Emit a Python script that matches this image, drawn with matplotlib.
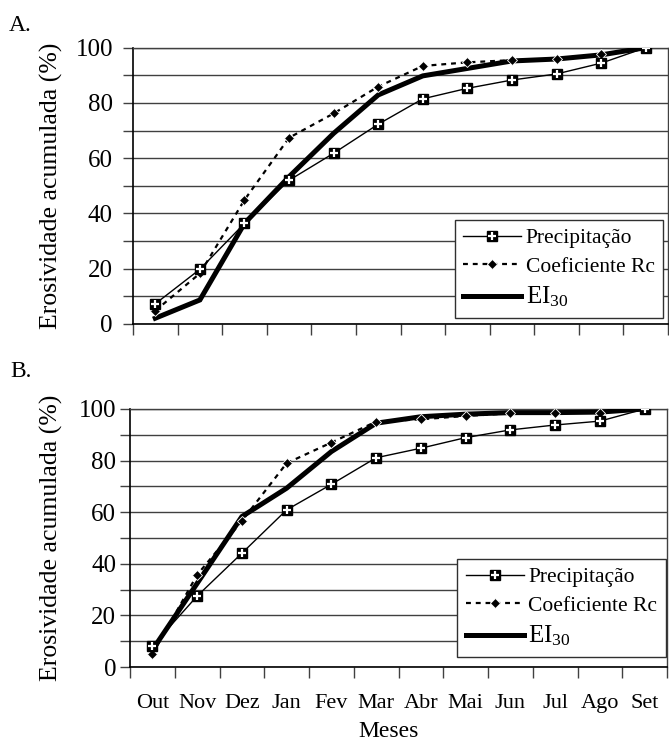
import matplotlib
matplotlib.use("Agg")
import matplotlib.pyplot as plt
from matplotlib.ticker import MultipleLocator, FuncFormatter

plt.rcParams['font.family'] = ['Liberation Serif', 'DejaVu Serif']
plt.rcParams['mathtext.fontset'] = 'custom'
plt.rcParams['mathtext.rm'] = 'Liberation Serif'
plt.rcParams['mathtext.default'] = 'regular'

meses = ["Out", "Nov", "Dez", "Jan", "Fev", "Mar", "Abr", "Mai", "Jun", "Jul", "Ago", "Set"]

# painel A
prec_a = [7.3, 19.8, 36.4, 52.0, 61.8, 72.3, 81.5, 85.3, 88.3, 90.5, 94.4, 100]
rc_a = [4.8, 18.3, 44.9, 67.4, 76.2, 85.9, 93.4, 94.7, 95.5, 95.9, 97.6, 100]
ei_a = [2.1, 8.7, 36.4, 53.3, 69.0, 82.9, 89.8, 92.5, 95.2, 95.9, 97.4, 100]

# painel B
prec_b = [8.1, 27.5, 44.1, 60.9, 70.8, 81.1, 84.8, 88.9, 91.9, 93.8, 95.3, 100]
rc_b = [4.9, 35.7, 56.6, 79.0, 87.0, 95.1, 96.0, 97.3, 98.3, 98.6, 98.6, 100]
ei_b = [6.6, 32.4, 58.3, 69.3, 83.5, 94.5, 97.0, 98.0, 98.6, 98.6, 98.8, 100]

W, H = 669, 743
fig = plt.figure(figsize=(W / 100, H / 100), dpi=100)


def painel(rect, prec, rc, ei, leg_anchor, ypad, xlabels):
    ax = fig.add_axes(rect)
    x = range(len(meses))
    ax.plot(x, ei, color='black', lw=3.6, solid_joinstyle='miter', zorder=3)
    l_rc, = ax.plot(x, rc, color='black', lw=1.6, linestyle=(0, (2.2, 2.2)),
                    marker='D', ms=5, mfc='black', mec='white', mew=0.6, zorder=4)
    l_p, = ax.plot(x, prec, color='black', lw=1.0, marker='s', ms=7,
                   mfc='black', mec='black', zorder=5)
    l_px, = ax.plot(x, prec, linestyle='none', marker='+', ms=5.5,
                    mec='white', mew=1.6, zorder=6)
    l_ei, = ax.plot([], [], color='black', lw=3.6)

    ax.set_xlim(-0.5, len(meses) - 0.5)
    ax.set_ylim(0, 100)
    ax.yaxis.set_major_locator(MultipleLocator(10))
    ax.yaxis.set_major_formatter(FuncFormatter(lambda v, p: f"{v:.0f}" if round(v) % 20 == 0 else ""))
    ax.grid(axis='y', color='#404040', lw=1.0)
    ax.set_axisbelow(True)

    ax.set_xticks([i - 0.5 for i in range(len(meses) + 1)])
    ax.set_xticklabels([])
    ax.set_xticks(list(x), minor=True)
    if xlabels:
        ax.set_xticklabels(meses, minor=True, fontsize=16)
    ax.tick_params(axis='x', which='major', length=8, width=1.0, color='#404040', direction='out')
    ax.tick_params(axis='x', which='minor', length=0, pad=19.5)
    ax.tick_params(axis='y', length=7.5, width=1.0, color='#404040', labelsize=18, pad=ypad)

    for s in ['left', 'bottom']:
        ax.spines[s].set_color('black')
        ax.spines[s].set_linewidth(1.2)
    for s in ['top', 'right']:
        ax.spines[s].set_color('#404040')
        ax.spines[s].set_linewidth(1.0)

    ax.set_ylabel("Erosividade acumulada (%)", fontsize=18.5)

    leg = ax.legend([(l_p, l_px), l_rc, l_ei], ["Precipitação", "Coeficiente Rc", "EI$_{30}$"],
                    loc='lower right', bbox_to_anchor=leg_anchor, borderaxespad=0,
                    fontsize=15.5, handlelength=2.7, handletextpad=0.2,
                    labelspacing=0.38, borderpad=0.4, fancybox=False, framealpha=1,
                    edgecolor='#303030')
    leg.get_frame().set_linewidth(1.0)
    leg.get_texts()[2].set_fontsize(18)
    leg.set_zorder(10)
    return ax


ax_a = painel([133 / W, 1 - 324 / H, 535 / W, 276.3 / H], prec_a, rc_a, ei_a,
              (0.991, 0.022), 7, False)
ax_a.yaxis.set_label_coords((63 - 133) / 535, 0.5)

ax_b = painel([130 / W, 1 - 667 / H, 537 / W, 258 / H], prec_b, rc_b, ei_b,
              (0.998, 0.039), 2.5, True)
ax_b.yaxis.set_label_coords((63 - 130) / 537, 0.5)

fig.text(9 / W, 1 - 31 / H, "A.", fontsize=17, va='baseline', ha='left')
fig.text(10 / W, 1 - 377 / H, "B.", fontsize=17, va='baseline', ha='left')
fig.text(389 / W, 1 - 737 / H, "Meses", fontsize=17, va='baseline', ha='center')

fig.savefig("out.png", dpi=100)
